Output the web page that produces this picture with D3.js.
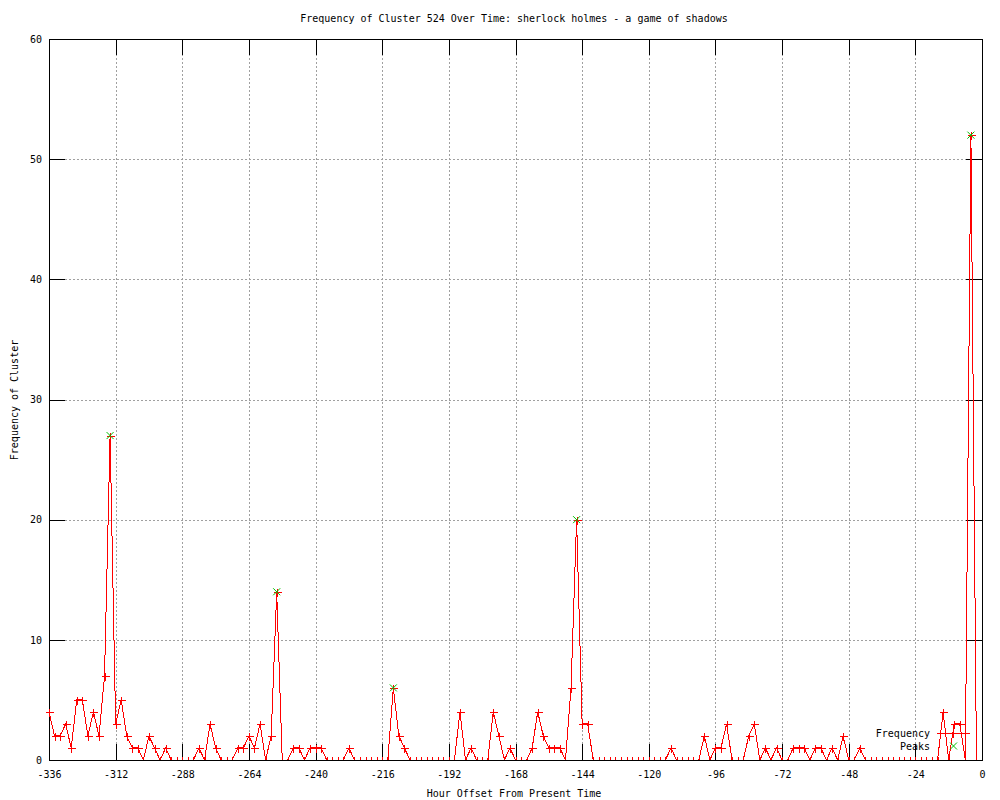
<html>
<head>
    <meta charset="utf-8">
    <style>
        body { margin: 0; background: #fff; }
        svg { display: block; font-family: "DejaVu Sans Mono", "Liberation Mono", monospace; font-size: 10px; }
        .axis path { display: none; }
        .axis line { stroke: #000; shape-rendering: crispEdges; }
        .axis text { fill: #000; font-family: "DejaVu Sans Mono", monospace; font-size: 10px; }
        .grid line { stroke: #a0a0a0; stroke-dasharray: 2,2; shape-rendering: crispEdges; }
        .grid path, .grid text { display: none; }
        .border { fill: none; stroke: #000; shape-rendering: crispEdges; }
        .freq { fill: none; stroke: #ff0000; stroke-width: 1; shape-rendering: crispEdges; }
        .plus { stroke: #ff0000; fill: none; shape-rendering: crispEdges; }
        .cross { stroke: #00c000; fill: none; }
        .lbl { fill: #000; }
    </style>
    <script src="https://d3js.org/d3.v7.min.js"></script>
</head>
<body>
    <svg width=1000 height=800></svg>
    <script>
        // data: hour offsets every 2 hours
        var hours = d3.range(-336, 0, 2);
        var freq = [
            4, 2, 2, 3, 1, 5, 5, 2, 4, 2, 7, 27,
            3, 5, 2, 1, 1, 0, 2, 1, 0, 1, 0, 0,
            0, 0, 0, 1, 0, 3, 1, 0, 0, 0, 1, 1,
            2, 1, 3, 0, 2, 14, 0, 0, 1, 1, 0, 1,
            1, 1, 0, 0, 0, 0, 1, 0, 0, 0, 0, 0,
            0, 0, 6, 2, 1, 0, 0, 0, 0, 0, 0, 0,
            0, 0, 4, 0, 1, 0, 0, 0, 4, 2, 0, 1,
            0, 0, 0, 1, 4, 2, 1, 1, 1, 0, 6, 20,
            3, 3, 0, 0, 0, 0, 0, 0, 0, 0, 0, 0,
            0, 0, 0, 0, 1, 0, 0, 0, 0, 0, 2, 0,
            1, 1, 3, 0, 0, 0, 2, 3, 0, 1, 0, 1,
            0, 0, 1, 1, 1, 0, 1, 1, 0, 1, 0, 2,
            0, 0, 1, 0, 0, 0, 0, 0, 0, 0, 0, 0,
            0, 0, 0, 0, 0, 4, 0, 3, 3, 0, 52, 0
        ];
        var peakHours = [-314, -254, -212, -146, -4];
        var peakValues = [27, 14, 6, 20, 52];
        var xTicks = d3.range(-336, 1, 24);
        var yTicks = d3.range(0, 61, 10);

        var g = {};
        g.svg = d3.select('svg');
        g.left = 49; g.right = 982; g.top = 39; g.bottom = 760;
        g.tic = 16;

        var x = d3.scaleLinear().domain([-336, 0]).range([g.left, g.right]);
        var y = d3.scaleLinear().domain([0, 60]).range([g.bottom, g.top]);

        var pts = hours.map(function(h, i) { return [h, freq[i]]; });
        var peaks = peakHours.map(function(h, i) { return [h, peakValues[i]]; });

        // points may stick out sideways, but not below the x axis
        g.svg.append('defs').append('clipPath').attr('id', 'plotclip')
            .append('rect')
            .attr('x', 0).attr('y', 0)
            .attr('width', 1000).attr('height', g.bottom);

        // grid
        g.svg.append('g').attr('class', 'grid')
            .attr('transform', 'translate(0,' + g.bottom + ')')
            .call(d3.axisBottom(x).tickValues(xTicks).tickSize(-(g.bottom - g.top)));
        g.svg.append('g').attr('class', 'grid')
            .attr('transform', 'translate(' + g.left + ',0)')
            .call(d3.axisLeft(y).tickValues(yTicks).tickSize(-(g.right - g.left)));

        // axes, inward ticks, mirrored on top/right
        g.svg.append('g').attr('class', 'axis')
            .attr('transform', 'translate(0,' + g.bottom + ')')
            .call(d3.axisBottom(x).tickValues(xTicks).tickSize(-g.tic).tickPadding(11)
                .tickFormat(function(d) { return String(d); }));
        g.svg.append('g').attr('class', 'axis')
            .attr('transform', 'translate(0,' + g.top + ')')
            .call(d3.axisTop(x).tickValues(xTicks).tickSize(-g.tic).tickFormat(''));
        g.svg.append('g').attr('class', 'axis')
            .attr('transform', 'translate(' + g.left + ',0)')
            .call(d3.axisLeft(y).tickValues(yTicks).tickSize(-g.tic).tickPadding(7)
                .tickFormat(function(d) { return String(d); }));
        g.svg.append('g').attr('class', 'axis')
            .attr('transform', 'translate(' + g.right + ',0)')
            .call(d3.axisRight(y).tickValues(yTicks).tickSize(-g.tic).tickFormat(''));

        g.svg.append('rect').attr('class', 'border')
            .attr('x', g.left).attr('y', g.top)
            .attr('width', g.right - g.left).attr('height', g.bottom - g.top);

        // frequency line + points
        var plot = g.svg.append('g').attr('clip-path', 'url(#plotclip)');
        plot.append('path').attr('class', 'freq')
            .attr('d', d3.line().x(function(d) { return x(d[0]); }).y(function(d) { return y(d[1]); })(pts));
        function plusPath(cx, cy, r) {
            return 'M' + (cx - r) + ',' + cy + 'H' + (cx + r) + 'M' + cx + ',' + (cy - r) + 'V' + (cy + r);
        }
        function crossPath(cx, cy, r) {
            return 'M' + (cx - r) + ',' + (cy - r) + 'L' + (cx + r) + ',' + (cy + r) +
                   'M' + (cx - r) + ',' + (cy + r) + 'L' + (cx + r) + ',' + (cy - r);
        }
        plot.selectAll('.plus').data(pts).enter().append('path')
            .attr('class', 'plus')
            .attr('d', function(d) { return plusPath(Math.round(x(d[0])) + 0.5, Math.round(y(d[1])) + 0.5, 4); });
        plot.selectAll('.cross').data(peaks).enter().append('path')
            .attr('class', 'cross')
            .attr('d', function(d) { return crossPath(x(d[0]), y(d[1]), 3.5); });

        // legend
        var lg = g.svg.append('g');
        lg.append('text').attr('class', 'lbl').attr('x', 930).attr('y', 733).attr('dy', '0.35em')
            .attr('text-anchor', 'end').text('Frequency');
        lg.append('text').attr('class', 'lbl').attr('x', 930).attr('y', 746).attr('dy', '0.35em')
            .attr('text-anchor', 'end').text('Peaks');
        lg.append('path').attr('class', 'freq').attr('d', 'M937,733.5H970');
        lg.append('path').attr('class', 'plus').attr('d', plusPath(953.5, 733.5, 4));
        lg.append('path').attr('class', 'cross').attr('d', crossPath(953.5, 746, 3.5));

        // titles
        g.svg.append('text').attr('class', 'lbl').attr('x', 514).attr('y', 22)
            .attr('text-anchor', 'middle')
            .text('Frequency of Cluster 524 Over Time: sherlock holmes - a game of shadows');
        g.svg.append('text').attr('class', 'lbl').attr('x', 514).attr('y', 797)
            .attr('text-anchor', 'middle').text('Hour Offset From Present Time');
        g.svg.append('text').attr('class', 'lbl')
            .attr('transform', 'translate(18,400) rotate(-90)')
            .attr('text-anchor', 'middle').text('Frequency of Cluster');
    </script>
</head>
</html>
